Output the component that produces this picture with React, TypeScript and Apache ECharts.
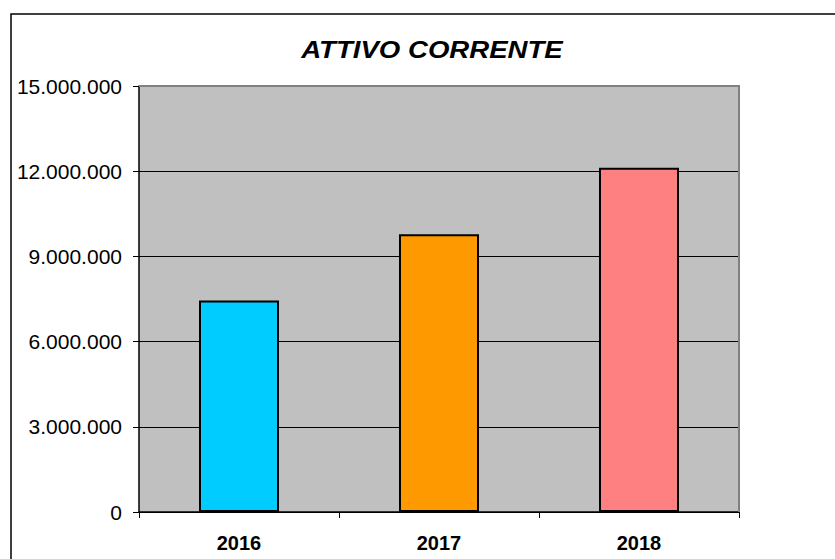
import React, { useEffect, useRef } from "react";
import * as echarts from "echarts";

const titleText = "ATTIVO CORRENTE";
const years = ["2016", "2017", "2018"];
const values = [7450000, 9780000, 12120000];
const barColors = ["#00CCFF", "#FF9900", "#FF8080"];

const fmt = (v: number) =>
  String(Math.round(v)).replace(/\B(?=(\d{3})+(?!\d))/g, ".");

export default function App() {
  const ref = useRef<HTMLDivElement>(null);
  useEffect(() => {
    document.body.style.margin = "0";
    if (!ref.current) return;
    const chart = echarts.init(ref.current, undefined, { renderer: "svg" });
    chart.setOption({
      animation: false,
      backgroundColor: "#FFFFFF",
      grid: {
        left: 139,
        top: 86,
        right: 96,
        bottom: 47,
        show: true,
        backgroundColor: "#C0C0C0",
        borderWidth: 0,
      },
      xAxis: {
        type: "category",
        data: years,
        axisLine: { show: true, lineStyle: { color: "#000", width: 1.5 } },
        axisTick: { show: true, length: 6, alignWithLabel: false, lineStyle: { color: "#000" } },
        axisLabel: {
          color: "#000",
          fontFamily: "Liberation Sans, Arial, sans-serif",
          fontWeight: "bold",
          fontSize: 20,
          margin: 21,
        },
        splitLine: { show: false },
      },
      yAxis: {
        type: "value",
        min: 0,
        max: 15000000,
        interval: 3000000,
        axisLine: { show: true, lineStyle: { color: "#000", width: 1.5 } },
        axisTick: { show: true, length: 6, lineStyle: { color: "#000" } },
        axisLabel: {
          color: "#000",
          fontFamily: "Liberation Sans, Arial, sans-serif",
          fontSize: 21,
          margin: 17,
          formatter: (v: number) => fmt(v),
        },
        splitLine: { show: true, lineStyle: { color: "#000", width: 1 } },
      },
      series: [
        {
          type: "bar",
          data: values.map((v, i) => ({
            value: v,
            itemStyle: { color: barColors[i] },
          })),
          barWidth: 80,
          itemStyle: { borderColor: "#000", borderWidth: 2 },
        },
      ],
      graphic: [
        {
          type: "rect",
          shape: { x: 11, y: 14, width: 1000, height: 1000 },
          style: { fill: "none", stroke: "#000", lineWidth: 1.5 },
          silent: true,
          z: 100,
        },
        {
          type: "polyline",
          shape: { points: [[139, 86], [739, 86], [739, 512]] },
          style: { fill: "none", stroke: "#808080", lineWidth: 2 },
          silent: true,
          z: 100,
        },
        {
          type: "text",
          x: 432,
          y: 50,
          scaleX: 1.2,
          style: {
            text: titleText,
            fontFamily: "Liberation Sans, Arial, sans-serif",
            fontWeight: "bold",
            fontStyle: "italic",
            fontSize: 23,
            fill: "#000",
            align: "center",
            verticalAlign: "middle",
          },
          z: 100,
        },
      ],
    });
    return () => chart.dispose();
  }, []);
  return <div ref={ref} style={{ width: 835, height: 559 }} />;
}
